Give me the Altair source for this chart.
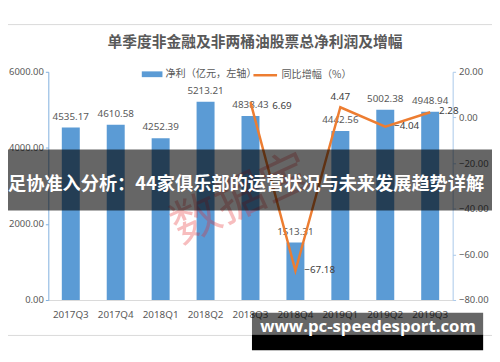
import altair as alt
import pandas as pd

# ---- data ----
quarters = ["2017Q3", "2017Q4", "2018Q1", "2018Q2", "2018Q3",
            "2018Q4", "2019Q1", "2019Q2", "2019Q3"]
profit = [4535.17, 4610.58, 4252.39, 5213.21, 4838.43,
          1513.31, 4442.56, 5002.38, 4948.94]
growth = [None, None, None, None, 6.69, -67.18, 4.47, -4.04, 2.28]

series_bar = "净利（亿元，左轴）"
series_line = "同比增幅（%）"
title_text = ["单季度非金融及非两桶油股票总净利润及增幅"]
banner_text = ["足协准入分析：44家俱乐部的运营状况与未来发展趋势详解"]
watermark_text = ["数据宝"]
site_text = ["www.pc-speedesport.com"]

left_ticks = [0, 1000, 2000, 3000, 4000, 5000, 6000]
right_ticks = [-80, -70, -60, -50, -40, -30, -20, -10, 0, 10, 20]

BLUE = "#5B9BD5"
ORANGE = "#ED7D31"
GREY = "#595959"
CJK = "Noto Sans CJK SC"
NUM = "Noto Sans"

df = pd.DataFrame({"q": quarters, "profit": profit, "growth": growth})
df["s1"] = series_bar
df["s2"] = series_line

x = alt.X("q:N", sort=quarters,
          scale=alt.Scale(paddingInner=0.6, paddingOuter=0.3),
          axis=alt.Axis(title=None, labelAngle=0, ticks=False, tickSize=0,
                        labelPadding=10, domainColor="#D9D9D9",
                        labelColor=GREY, labelFontSize=10, labelFont=NUM))

yl_scale = alt.Scale(domain=[0, 6000], nice=False)
yr_scale = alt.Scale(domain=[-80, 20], nice=False)

left_axis = alt.Axis(title=None, values=left_ticks, format=".2f", grid=False,
                     labelColor=GREY, labelFontSize=9.6, labelFont=NUM,
                     domainColor="#7FAEDD", tickColor="#7FAEDD", tickSize=3,
                     labelPadding=2)
right_axis = alt.Axis(title=None, values=right_ticks, format=".2f", grid=False,
                      orient="right", labelColor=GREY, labelFontSize=9.6,
                      labelFont=NUM, domainColor="#A9C9EA",
                      tickColor="#A9C9EA", tickSize=3, labelPadding=3)

base = alt.Chart(df)

bars = base.mark_bar().encode(
    x=x,
    y=alt.Y("profit:Q", scale=yl_scale, axis=left_axis),
    color=alt.Color("s1:N",
                    scale=alt.Scale(domain=[series_bar], range=[BLUE]),
                    legend=alt.Legend(orient="none", legendX=95, legendY=-8,
                                      title=None, padding=0,
                                      symbolType="M-1,-0.28H1V0.28H-1Z",
                                      symbolSize=441, symbolStrokeWidth=0,
                                      labelFont=CJK, labelFontSize=10.3,
                                      labelColor=GREY, labelOffset=3)),
)
bar_labels = base.mark_text(baseline="alphabetic", dy=-8, fontSize=10,
                            color=GREY, font=NUM).encode(
    x=x,
    y=alt.Y("profit:Q"),
    text=alt.Text("profit:Q", format=".2f"),
)
left_layer = alt.layer(bars, bar_labels)

line = base.mark_line(strokeWidth=2.5).encode(
    x=x,
    y=alt.Y("growth:Q", scale=yr_scale, axis=right_axis),
    stroke=alt.Stroke("s2:N",
                      scale=alt.Scale(domain=[series_line], range=[ORANGE]),
                      legend=alt.Legend(orient="none", legendX=207, legendY=-10,
                                        title=None, padding=0,
                                        symbolType="stroke", symbolSize=576,
                                        symbolStrokeWidth=2.5,
                                        labelFont=CJK, labelFontSize=10.3,
                                        labelColor=GREY, labelOffset=3)),
)

def line_label(filt, **kw):
    return base.transform_filter(filt).mark_text(
        fontSize=10, color="#404040", font=NUM, baseline="middle", **kw
    ).encode(
        x=x,
        y=alt.Y("growth:Q"),
        text=alt.Text("growth:Q", format=".2f"),
    )

lab_far = line_label("datum.q == '2018Q3'", align="left", dx=22, dy=4)
lab_right = line_label("datum.q == '2018Q4' || datum.q == '2019Q2' || datum.q == '2019Q3'",
                       align="left", dx=9, dy=-1)
lab_above = line_label("datum.q == '2019Q1'", align="center", dy=-10)
right_layer = alt.layer(line, lab_far, lab_right, lab_above)

one = pd.DataFrame({"k": [0]})

frame = alt.Chart(one).mark_rect(fillOpacity=0, stroke="#D9D9D9", strokeWidth=1).encode(
    x=alt.value(-60), x2=alt.value(480), y=alt.value(-48), y2=alt.value(268))

title = alt.Chart(pd.DataFrame({"t": title_text})).mark_text(
    font=CJK, fontSize=15, fontWeight="bold", color=GREY,
    align="center", baseline="middle").encode(
    x=alt.value(210), y=alt.value(-30), text="t:N")

watermark = alt.Chart(pd.DataFrame({"t": watermark_text})).mark_text(
    font=CJK, fontSize=50, color="#E8282B", opacity=0.3, angle=335,
    align="center", baseline="middle").encode(
    x=alt.value(196), y=alt.value(130), text="t:N")

banner = alt.Chart(one).mark_rect(color="black", opacity=0.6).encode(
    x=alt.value(-60), x2=alt.value(480), y=alt.value(79), y2=alt.value(141))

banner_label = alt.Chart(pd.DataFrame({"t": banner_text})).mark_text(
    font=CJK, fontSize=18.5, fontWeight="bold", color="white",
    align="center", baseline="middle").encode(
    x=alt.value(201), y=alt.value(114), text="t:N")

box_top = alt.Chart(one).mark_rect(color="black", opacity=0.6).encode(
    x=alt.value(207), x2=alt.value(442), y=alt.value(245), y2=alt.value(267))
box_bottom = alt.Chart(one).mark_rect(color="black").encode(
    x=alt.value(207), x2=alt.value(442), y=alt.value(267), y2=alt.value(283))
site_label = alt.Chart(pd.DataFrame({"t": site_text})).mark_text(
    font="Open Sans", fontSize=17, fontWeight="bold", color="white",
    align="center", baseline="middle").encode(
    x=alt.value(325), y=alt.value(260), text="t:N")

chart = alt.layer(
    frame, left_layer, right_layer, title, watermark, banner, banner_label,
    box_top, box_bottom, site_label
).resolve_scale(
    y="independent"
).properties(
    width=411, height=232,
    padding={"left": 41, "top": 62, "right": 40, "bottom": 52},
    autosize=alt.AutoSizeParams(type="none"),
).configure_view(stroke=None)

chart.save("out.html", embed_options={"renderer": "svg", "actions": False})
